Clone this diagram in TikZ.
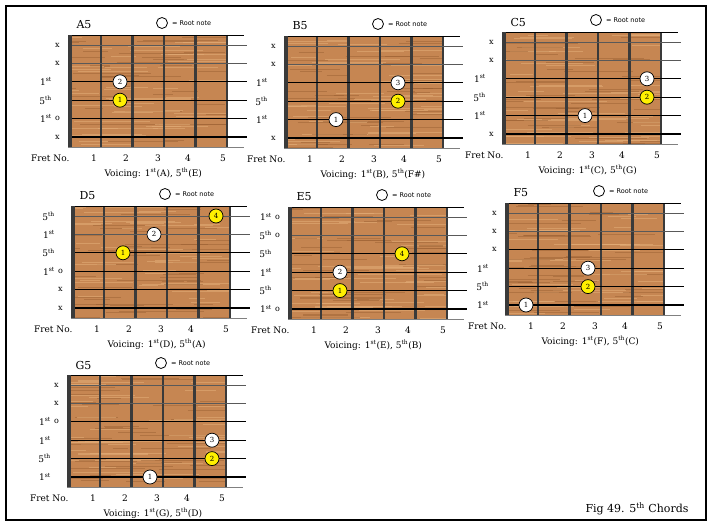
\documentclass[tikz,border=0pt]{standalone}
\usepackage{fontspec}
\setmainfont{DejaVu Serif}
\newfontfamily\keyfont{DejaVu Sans}
\usetikzlibrary{positioning}
\definecolor{wood}{RGB}{198,134,82}
\definecolor{woodlight}{RGB}{226,172,118}
\definecolor{wooddark}{RGB}{150,92,48}
\definecolor{fretgray}{RGB}{58,58,58}
\definecolor{fifth}{RGB}{255,240,0}
\newcommand\rst{1\textsuperscript{st}}
\newcommand\fth{5\textsuperscript{th}}
\tikzset{
  every picture/.style={font=\fontsize{9}{10}\selectfont},
  fret/.style={fretgray,line width=2.4pt},
  edge/.style={line width=0.6pt},
  title/.style={anchor=west,font=\fontsize{11}{12}\selectfont},
  keymark/.style={circle,draw,line width=0.8pt,fill=white,minimum size=11pt,inner sep=0pt},
  keytext/.style={font=\keyfont\fontsize{6.5}{7}\selectfont,inner sep=0pt},
  mute/.style={font=\fontsize{8}{8}\selectfont,inner sep=0pt},
  interval/.style={anchor=east,inner sep=0pt},
  fretnum/.style={inner sep=0pt},
  rootdot/.style={circle,draw,line width=0.7pt,fill=white,minimum size=14pt,inner sep=0pt,font=\fontsize{7}{7}\selectfont},
  fifthdot/.style={rootdot,fill=fifth},
}
% #1 name, #2 board corner, #3 title, #4 voicing, #5 string/label/mark, #6 fret/string/finger/style
\newcommand\chordchart[6]{%
  \begin{scope}[shift={#2}]
    % wood
    \fill[wood] (0,0) rectangle (159,112);
    \begin{scope}
      \clip (0,0) rectangle (159,112);
      \foreach \k in {1,...,90}{
        \pgfmathsetmacro\gy{rnd*112}
        \pgfmathsetmacro\gx{rnd*170-30}
        \pgfmathsetmacro\gl{15+rnd*70}
        \pgfmathsetmacro\gw{0.3+rnd*0.9}
        \pgfmathtruncatemacro\gc{rnd*2}
        \ifnum\gc=0
          \draw[wooddark,opacity=0.45,line width=\gw pt] (\gx,\gy) -- ++(\gl,0);
        \else
          \draw[woodlight,opacity=0.6,line width=\gw pt] (\gx,\gy) -- ++(\gl,0);
        \fi
      }
    \end{scope}
    % frets and strings
    \foreach \f in {1,...,5}
      \draw[fret] ({1.5+31.5*\f},0) -- ++(0,112);
    \draw[edge] (0,0) -- (176,0);
    \draw[edge,gray] (0,112) -- (176,112);
    \foreach \s/\w/\c in {1/0.8/gray!70!black,2/0.9/gray!70!black,3/1/black,4/1.3/black,5/1.7/black,6/2.6/black}
      \draw[\c,line width=\w pt] (0,{10+18.4*(\s-1)}) -- (179,{10+18.4*(\s-1)});
    \fill[fretgray] (0,0) rectangle (4,112);
    % texts
    \node[title] (#1-title) at (5,-10) {#3};
    \node[keymark] (#1-key) at (94,-12) {};
    \node[keytext,right=4pt of #1-key] (#1-keytext) {= Root note};
    \node[anchor=east] (#1-fretno) at (5,123) {Fret No.};
    \foreach \f/\fx in {1/26,2/58,3/90,4/120,5/155}
      \node[fretnum] (#1-n\f) at (\fx,123) {\f};
    \node[anchor=west] (#1-voicing) at (33,138) {Voicing: #4};
    \foreach \s/\lab/\mk in {#5}{
      \node[interval] (#1-l\s) at (-16,{10+18.4*(\s-1)}) {\lab};
      \node[mute] (#1-m\s) at (-10.5,{10+18.4*(\s-1)}) {\mk};
    }
    % fingers
    \foreach \f/\s/\dn/\ds in {#6}
      \node[\ds] (#1-d\dn) at ({21+31*(\f-1)},{10+18.4*(\s-1)}) {\dn};
  \end{scope}}

\begin{document}
\begin{tikzpicture}[x=1pt,y=-1pt]
  \pgfmathsetseed{17}
  \useasboundingbox (0,0) rectangle (713,527);
  \draw[line width=1.2pt] (6,6) rectangle (706,520);
  % top row
  \chordchart{a5}{(68,35)}{A5}{\rst(A), \fth(E)}
    {1//x,2//x,3/\rst/,4/\fth/,5/\rst/o,6//x}
    {2/3/2/rootdot,2/4/1/fifthdot}
  \chordchart{b5}{(284,36)}{B5}{\rst(B), \fth(F\#)}
    {1//x,2//x,3/\rst/,4/\fth/,5/\rst/,6//x}
    {4/3/3/rootdot,4/4/2/fifthdot,2/5/1/rootdot}
  \chordchart{c5}{(502,32)}{C5}{\rst(C), \fth(G)}
    {1//x,2//x,3/\rst/,4/\fth/,5/\rst/,6//x}
    {5/3/3/rootdot,5/4/2/fifthdot,3/5/1/rootdot}
  % middle row
  \chordchart{d5}{(71,206)}{D5}{\rst(D), \fth(A)}
    {1/\fth/,2/\rst/,3/\fth/,4/\rst/o,5//x,6//x}
    {5/1/4/fifthdot,3/2/2/rootdot,2/3/1/fifthdot}
  \chordchart{e5}{(288,207)}{E5}{\rst(E), \fth(B)}
    {1/\rst/o,2/\fth/o,3/\fth/,4/\rst/,5/\fth/,6/\rst/o}
    {4/3/4/fifthdot,2/4/2/rootdot,2/5/1/fifthdot}
  \chordchart{f5}{(505,203)}{F5}{\rst(F), \fth(C)}
    {1//x,2//x,3//x,4/\rst/,5/\fth/,6/\rst/}
    {3/4/3/rootdot,3/5/2/fifthdot,1/6/1/rootdot}
  % bottom row
  \chordchart{g5}{(67,375)}{G5}{\rst(G), \fth(D)}
    {1//x,2//x,3/\rst/o,4/\rst/,5/\fth/,6/\rst/}
    {5/4/3/rootdot,5/5/2/fifthdot,3/6/1/rootdot}
  \node[anchor=east,font=\fontsize{11}{12}\selectfont] (caption) at (692,509) {Fig 49. \fth\ Chords};
\end{tikzpicture}
\end{document}
